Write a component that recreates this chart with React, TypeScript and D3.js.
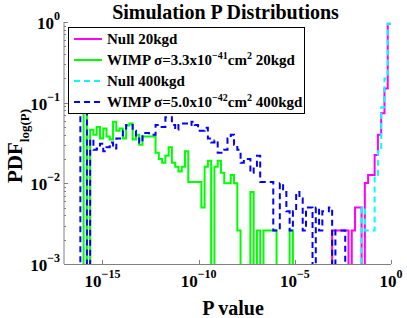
import * as d3 from 'd3';
import { useEffect, useRef } from 'react';

const WIDTH = 407;
const HEIGHT = 318;

// histogram bins in log10(P): 100 bins from 10^-17 to 10^0
const binLogMin = -17;
const binLogMax = 0;
const binCount = 100;

// each series: first bin index + per-bin PDF values (0 = empty bin)
const null20Start = 82;
const null20 = [
  0.0026, 0.0026, 0.0026, 0.0026, 0.0026, 0, 0.0026, 0.005, 0.005, 0,
  0.0101, 0.0127, 0.0127, 0.0225, 0.04, 0.074, 0.15, 0.95,
];

const wimp20Start = 6;
const wimp20 = [
  0.3, 0, 0.046, 0.04, 0.05, 0.036, 0.048, 0.038, 0.035, 0.058,
  0.045, 0.048, 0.036, 0.052, 0.055, 0.035, 0.04, 0.03, 0.038, 0.038,
  0.038, 0.038, 0.024, 0.02, 0.018, 0.022, 0.028, 0.018, 0.016, 0.014,
  0.016, 0.025, 0.0104, 0.0104, 0.0104, 0.0104, 0.005, 0.016, 0.019, 0,
  0.016, 0.019, 0.0135, 0.01, 0.01, 0.0127, 0.01, 0.0026, 0, 0,
  0, 0.0078, 0, 0.0026, 0, 0.0026, 0.0026, 0.0026, 0.0026, 0,
  0, 0, 0, 0.0026,
];

const null400Start = 91;
const null400 = [0.005, 0.0026, 0.0026, 0.0026, 0.0127, 0.025, 0.088, 0.2, 0.95];

const wimp400Start = 5;
const wimp400 = [
  0.3, 0.3, 0, 0.035, 0.026, 0.027, 0.031, 0.025, 0.028, 0.032,
  0.027, 0.036, 0.036, 0.045, 0.053, 0.053, 0.045, 0.036, 0.032, 0.042,
  0.042, 0.04, 0.04, 0.053, 0.05, 0.05, 0.066, 0.066, 0.053, 0.046,
  0.053, 0.055, 0.055, 0.053, 0.058, 0.053, 0.045, 0.045, 0.049, 0.036,
  0.032, 0.034, 0.024, 0.024, 0.026, 0.036, 0.04, 0.03, 0.026, 0.018,
  0.02, 0.02, 0.0135, 0.016, 0.022, 0.0104, 0.0104, 0.0104, 0.0104, 0.0026,
  0.0026, 0.01, 0.0078, 0.0045, 0.0026, 0.0045, 0.0078, 0.0065, 0.0026, 0.005,
  0.005, 0, 0.005, 0.0026, 0.0045, 0.0045, 0.005, 0, 0.0026, 0.0026,
  0.0026,
];

const xTicks = [1e-15, 1e-10, 1e-5, 1];
const xTickExps = ['\u221215', '\u221210', '\u22125', '0'];
const yTicks = [1, 1e-1, 1e-2, 1e-3];
const yTickExps = ['0', '\u22121', '\u22122', '\u22123'];

const FONT = "'Liberation Serif', 'Times New Roman', serif";

const series = [
  { key: 'null20', start: null20Start, values: null20, color: '#ff00ff', dash: null },
  { key: 'wimp20', start: wimp20Start, values: wimp20, color: '#00ff00', dash: null },
  { key: 'null400', start: null400Start, values: null400, color: '#00ffff', dash: '6,4' },
  { key: 'wimp400', start: wimp400Start, values: wimp400, color: '#0000ff', dash: '6,4' },
];

// legend rows: [text, superscript] pieces
const legendRows: { parts: { t: string; sup?: boolean }[] }[] = [
  { parts: [{ t: 'Null 20kgd' }] },
  {
    parts: [
      { t: 'WIMP \u03c3=3.3x10' },
      { t: '\u221241', sup: true },
      { t: 'cm' },
      { t: '2', sup: true },
      { t: ' 20kgd' },
    ],
  },
  { parts: [{ t: 'Null 400kgd' }] },
  {
    parts: [
      { t: 'WIMP \u03c3=5.0x10' },
      { t: '\u221242', sup: true },
      { t: 'cm' },
      { t: '2', sup: true },
      { t: ' 400kgd' },
    ],
  },
];

const App = () => {
  const ref = useRef<SVGSVGElement | null>(null);
  const margin = { left: 64, right: 16, top: 22, bottom: 54 };

  useEffect(() => {
    if (!ref.current) return;
    const svg = d3.select(ref.current);
    svg.selectAll('*').remove();

    const x = d3
      .scaleLog()
      .domain([10 ** binLogMin, 10 ** binLogMax])
      .range([margin.left, WIDTH - margin.right]);
    const y = d3
      .scaleLog()
      .domain([1e-3, 1])
      .range([HEIGHT - margin.bottom, margin.top]);

    const edges = d3
      .range(binCount + 1)
      .map((i) => 10 ** (binLogMin + (i * (binLogMax - binLogMin)) / binCount));

    svg
      .append('defs')
      .append('clipPath')
      .attr('id', 'plot-clip')
      .append('rect')
      .attr('x', margin.left)
      .attr('y', margin.top)
      .attr('width', WIDTH - margin.left - margin.right)
      .attr('height', HEIGHT - margin.top - margin.bottom);

    const line = d3
      .line<[number, number]>()
      .x((d) => x(d[0]))
      .y((d) => y(d[1] > 0 ? d[1] : 1e-6))
      .curve(d3.curveStepAfter);

    const plot = svg.append('g').attr('clip-path', 'url(#plot-clip)');

    series.forEach((s) => {
      const full = d3.range(binCount).map((i) => {
        const j = i - s.start;
        return j >= 0 && j < s.values.length ? s.values[j] : 0;
      });
      const pts: [number, number][] = full.map((v, i) => [edges[i], v]);
      pts.push([edges[binCount], full[binCount - 1]]);
      plot
        .append('path')
        .attr('d', line(pts))
        .attr('fill', 'none')
        .attr('stroke', s.color)
        .attr('stroke-width', 2)
        .attr('stroke-dasharray', s.dash);
    });

    // axes (box off, ticks inward)
    const axisColor = '#808080';
    const x0 = margin.left;
    const y0 = HEIGHT - margin.bottom;
    svg
      .append('line')
      .attr('x1', x0)
      .attr('x2', x0)
      .attr('y1', y(1e-3))
      .attr('y2', y(1))
      .attr('stroke', axisColor);
    svg
      .append('line')
      .attr('x1', x(10 ** binLogMin))
      .attr('x2', x(1))
      .attr('y1', y0 + 0.5)
      .attr('y2', y0 + 0.5)
      .attr('stroke', axisColor);

    // y major + minor ticks
    const yMinor: number[] = [];
    [-3, -2, -1].forEach((e) => {
      d3.range(2, 10).forEach((k) => yMinor.push(k * 10 ** e));
    });
    svg
      .append('g')
      .selectAll('line')
      .data(yMinor)
      .join('line')
      .attr('x1', x0)
      .attr('x2', x0 + 2)
      .attr('y1', (d) => Math.round(y(d)) + 0.5)
      .attr('y2', (d) => Math.round(y(d)) + 0.5)
      .attr('stroke', axisColor);
    svg
      .append('g')
      .selectAll('line')
      .data(yTicks)
      .join('line')
      .attr('x1', x0)
      .attr('x2', x0 + 4)
      .attr('y1', (d) => Math.round(y(d)) + 0.5)
      .attr('y2', (d) => Math.round(y(d)) + 0.5)
      .attr('stroke', axisColor);

    svg
      .append('g')
      .selectAll('line')
      .data(xTicks)
      .join('line')
      .attr('x1', (d) => Math.round(x(d)) + 0.5)
      .attr('x2', (d) => Math.round(x(d)) + 0.5)
      .attr('y1', y0)
      .attr('y2', y0 - 4)
      .attr('stroke', axisColor);

    // tick labels 10^n
    yTicks.forEach((t, i) => {
      const tx = svg
        .append('text')
        .attr('x', x0 - 4)
        .attr('y', y(t) + 7)
        .attr('text-anchor', 'end')
        .attr('font-family', FONT)
        .attr('font-weight', 'bold')
        .attr('font-size', 17);
      tx.append('tspan').text('10');
      tx.append('tspan').attr('dy', -9).attr('font-size', 12).text(yTickExps[i]);
    });
    xTicks.forEach((t, i) => {
      const tx = svg
        .append('text')
        .attr('x', x(t))
        .attr('y', 287)
        .attr('text-anchor', 'middle')
        .attr('font-family', FONT)
        .attr('font-weight', 'bold')
        .attr('font-size', 17);
      tx.append('tspan').text('10');
      tx.append('tspan').attr('dy', -9).attr('font-size', 12).text(xTickExps[i]);
    });

    // axis labels and title
    svg
      .append('text')
      .attr('x', 233)
      .attr('y', 315)
      .attr('text-anchor', 'middle')
      .attr('font-family', FONT)
      .attr('font-weight', 'bold')
      .attr('font-size', 20)
      .text('P value');

    const yl = svg
      .append('text')
      .attr('transform', 'translate(22,146) rotate(-90)')
      .attr('text-anchor', 'middle')
      .attr('font-family', FONT)
      .attr('font-weight', 'bold')
      .attr('font-size', 21);
    yl.append('tspan').text('PDF');
    yl.append('tspan').attr('dy', 7).attr('font-size', 13).text('log(P)');

    svg
      .append('text')
      .attr('x', 225.5)
      .attr('y', 19)
      .attr('text-anchor', 'middle')
      .attr('font-family', FONT)
      .attr('font-weight', 'bold')
      .attr('font-size', 20)
      .text('Simulation P Distributions');

    // legend
    const lg = svg.append('g');
    lg.append('rect')
      .attr('x', 68.5)
      .attr('y', 27.5)
      .attr('width', 236)
      .attr('height', 86)
      .attr('fill', 'white')
      .attr('stroke', 'black')
      .attr('stroke-width', 1);
    legendRows.forEach((row, i) => {
      const ly = 39 + i * 21;
      const s = series[i];
      lg.append('line')
        .attr('x1', 74)
        .attr('x2', 102)
        .attr('y1', ly)
        .attr('y2', ly)
        .attr('stroke', s.color)
        .attr('stroke-width', 2)
        .attr('stroke-dasharray', s.dash);
      const tx = lg
        .append('text')
        .attr('x', 107)
        .attr('y', ly + 5)
        .attr('font-family', FONT)
        .attr('font-weight', 'bold')
        .attr('font-size', 15);
      let raised = false;
      row.parts.forEach((p) => {
        const ts = tx.append('tspan').text(p.t);
        if (p.sup && !raised) {
          ts.attr('dy', -6).attr('font-size', 10);
          raised = true;
        } else if (!p.sup && raised) {
          ts.attr('dy', 6);
          raised = false;
        } else if (p.sup) {
          ts.attr('font-size', 10);
        }
      });
    });
  }, []);

  return (
    <svg
      ref={ref}
      width={WIDTH}
      height={HEIGHT}
      style={{ position: 'absolute', left: 0, top: 0, background: 'white' }}
    />
  );
};

export default App;
